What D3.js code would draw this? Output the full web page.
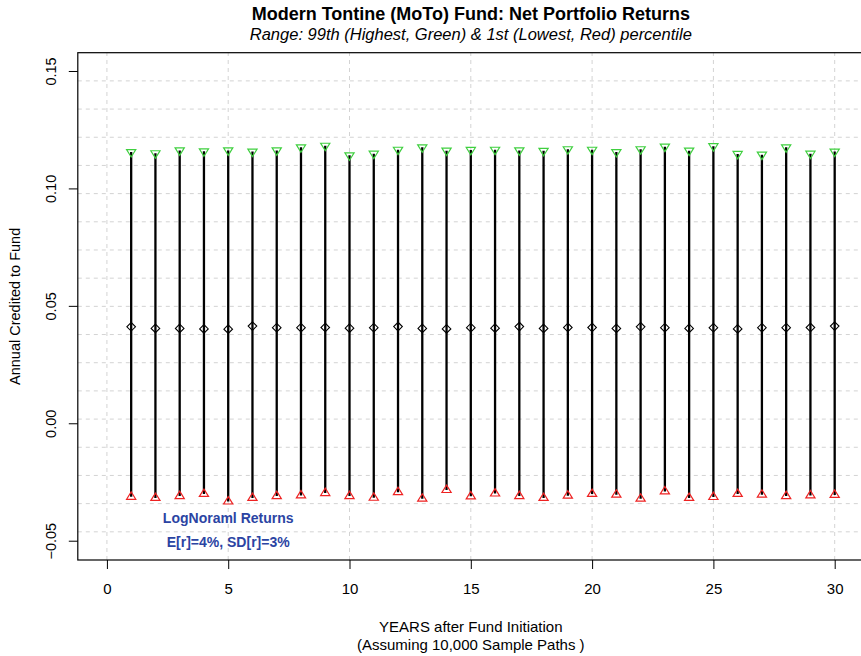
<!DOCTYPE html>
<html>
<head>
<meta charset="utf-8">
<script src="https://cdn.jsdelivr.net/npm/d3@7"></script>
<style>
  body { margin: 0; background: #fff; }
  svg { display: block; font-family: "Liberation Sans", Arial, Helvetica, sans-serif; }
</style>
</head>
<body>
<div id="chart"></div>
<script>
// years after fund initiation
var years = d3.range(1, 31);

// 99th percentile (green), mean (diamond), 1st percentile (red)
var high = [0.1157, 0.1152, 0.1164, 0.1160, 0.1164, 0.1159, 0.1164, 0.1177, 0.1184, 0.1143,
            0.1150, 0.1167, 0.1177, 0.1163, 0.1166, 0.1167, 0.1164, 0.1162, 0.1169, 0.1167,
            0.1157, 0.1169, 0.1180, 0.1163, 0.1182, 0.1149, 0.1146, 0.1177, 0.1150, 0.1159];
var mid = [0.0413, 0.0406, 0.0406, 0.0404, 0.0403, 0.0416, 0.0409, 0.0409, 0.0410, 0.0407,
           0.0409, 0.0414, 0.0406, 0.0404, 0.0409, 0.0407, 0.0414, 0.0406, 0.0410, 0.0410,
           0.0406, 0.0413, 0.0409, 0.0406, 0.0409, 0.0404, 0.0409, 0.0409, 0.0410, 0.0416];
var low = [-0.0311, -0.0316, -0.0308, -0.0299, -0.0331, -0.0316, -0.0308, -0.0305, -0.0295, -0.0308,
           -0.0315, -0.0291, -0.0319, -0.0282, -0.0309, -0.0297, -0.0308, -0.0316, -0.0306, -0.0299,
           -0.0302, -0.0319, -0.0288, -0.0316, -0.0312, -0.0299, -0.0302, -0.0308, -0.0305, -0.0303];

var xTicks = [0, 5, 10, 15, 20, 25, 30];
var yTicks = [-0.05, 0, 0.05, 0.10, 0.15];

var width = 861;
var height = 656;

var x = d3.scaleLinear().domain([-1.2, 31.2]).range([77.8, 863.8]);
var y = d3.scaleLinear().domain([-0.058, 0.158]).range([560, 52.7]);

var fmt = function (d) {
  return d3.format(".2f")(d).replace("-", "\u2212");
};

var svg = d3
  .select("#chart")
  .append("svg")
  .attr("width", width)
  .attr("height", height);

// grid: vertical at ticks, horizontal in 18 equal parts
var hGrid = d3.range(1, 18).map(function (i) {
  return y.domain()[0] + (i * (y.domain()[1] - y.domain()[0])) / 18;
});

svg
  .append("g")
  .selectAll("line")
  .data(xTicks)
  .enter()
  .append("line")
  .attr("x1", function (d) { return x(d); })
  .attr("x2", function (d) { return x(d); })
  .attr("y1", y.range()[0])
  .attr("y2", y.range()[1])
  .attr("stroke", "#d3d3d3")
  .attr("stroke-dasharray", "4,4");

svg
  .append("g")
  .selectAll("line")
  .data(hGrid)
  .enter()
  .append("line")
  .attr("x1", x.range()[0])
  .attr("x2", x.range()[1])
  .attr("y1", function (d) { return y(d); })
  .attr("y2", function (d) { return y(d); })
  .attr("stroke", "#d3d3d3")
  .attr("stroke-dasharray", "4,4");

// box
svg
  .append("rect")
  .attr("x", x.range()[0])
  .attr("y", y.range()[1])
  .attr("width", x.range()[1] - x.range()[0])
  .attr("height", y.range()[0] - y.range()[1])
  .attr("fill", "none")
  .attr("stroke", "#000")
  .attr("stroke-width", 1.2);

// axes
var xAxis = d3.axisBottom(x).tickValues(xTicks).tickSize(9).tickPadding(14).tickFormat(d3.format("d"));
var yAxis = d3.axisLeft(y).tickValues(yTicks).tickSize(9).tickFormat(fmt);

var gx = svg
  .append("g")
  .attr("transform", "translate(0," + y.range()[0] + ")")
  .call(xAxis);
gx.select(".domain").remove();
gx.selectAll("text").attr("font-size", 15).attr("fill", "#000").attr("font-family", null);

var gy = svg
  .append("g")
  .attr("transform", "translate(" + x.range()[0] + ",0)")
  .call(yAxis);
gy.select(".domain").remove();
gy.selectAll("text")
  .attr("font-size", 14.5)
  .attr("fill", "#000")
  .attr("font-family", null)
  .attr("x", null)
  .attr("dy", null)
  .attr("text-anchor", "middle")
  .attr("transform", function (d) {
    return "translate(-22," + y(d) + ") rotate(-90)";
  });
gy.selectAll(".tick").attr("transform", null);
gy.selectAll(".tick line")
  .attr("y1", function (d) { return y(d); })
  .attr("y2", function (d) { return y(d); });

// range segments
svg
  .append("g")
  .selectAll("line")
  .data(years)
  .enter()
  .append("line")
  .attr("x1", function (d) { return x(d); })
  .attr("x2", function (d) { return x(d); })
  .attr("y1", function (d, i) { return y(high[i]); })
  .attr("y2", function (d, i) { return y(low[i]); })
  .attr("stroke", "#000")
  .attr("stroke-width", 2.3);

// markers
var tri = function (cx, cy, down) {
  var s = down ? -1 : 1;
  var w = 4.6, h = 7.4;
  return "M" + cx + "," + (cy - s * h * 2 / 3) +
    "L" + (cx + w) + "," + (cy + s * h / 3) +
    "L" + (cx - w) + "," + (cy + s * h / 3) + "Z";
};

svg
  .append("g")
  .selectAll("path")
  .data(years)
  .enter()
  .append("path")
  .attr("d", function (d, i) { return tri(x(d), y(high[i]), true); })
  .attr("fill", "none")
  .attr("stroke", "#3fcf3f")
  .attr("stroke-width", 1.2);

svg
  .append("g")
  .selectAll("path")
  .data(years)
  .enter()
  .append("path")
  .attr("d", function (d, i) { return tri(x(d), y(low[i]), false); })
  .attr("fill", "none")
  .attr("stroke", "#ee2222")
  .attr("stroke-width", 1.2);

svg
  .append("g")
  .selectAll("path")
  .data(years)
  .enter()
  .append("path")
  .attr("d", function (d, i) {
    var cx = x(d), cy = y(mid[i]), r = 4.3;
    return "M" + cx + "," + (cy - r) + "L" + (cx + r) + "," + cy +
      "L" + cx + "," + (cy + r) + "L" + (cx - r) + "," + cy + "Z";
  })
  .attr("fill", "none")
  .attr("stroke", "#000")
  .attr("stroke-width", 1.1);

// legend note
svg
  .append("text")
  .attr("x", x(5))
  .attr("y", y(-0.0403) + 5)
  .attr("text-anchor", "middle")
  .attr("font-size", 14)
  .attr("font-weight", "bold")
  .attr("fill", "#2b44a3")
  .text("LogNoraml Returns");

svg
  .append("text")
  .attr("x", x(5))
  .attr("y", y(-0.0505) + 5)
  .attr("text-anchor", "middle")
  .attr("font-size", 14)
  .attr("font-weight", "bold")
  .attr("fill", "#2b44a3")
  .text("E[r]=4%, SD[r]=3%");

// titles
var cx = (x.range()[0] + x.range()[1]) / 2;

svg
  .append("text")
  .attr("x", cx)
  .attr("y", 20)
  .attr("text-anchor", "middle")
  .attr("font-size", 18)
  .attr("font-weight", "bold")
  .text("Modern Tontine (MoTo) Fund: Net Portfolio Returns");

svg
  .append("text")
  .attr("x", cx)
  .attr("y", 40)
  .attr("text-anchor", "middle")
  .attr("font-size", 16.5)
  .attr("font-style", "italic")
  .text("Range: 99th (Highest, Green) & 1st (Lowest, Red) percentile");

svg
  .append("text")
  .attr("x", cx)
  .attr("y", 632)
  .attr("text-anchor", "middle")
  .attr("font-size", 15)
  .text("YEARS after Fund Initiation");

svg
  .append("text")
  .attr("x", cx)
  .attr("y", 650)
  .attr("text-anchor", "middle")
  .attr("font-size", 15)
  .text("(Assuming 10,000 Sample Paths )");

svg
  .append("text")
  .attr("transform", "translate(20," + (y.range()[0] + y.range()[1]) / 2 + ") rotate(-90)")
  .attr("text-anchor", "middle")
  .attr("font-size", 14.5)
  .text("Annual Credited to Fund");
</script>
</body>
</html>
